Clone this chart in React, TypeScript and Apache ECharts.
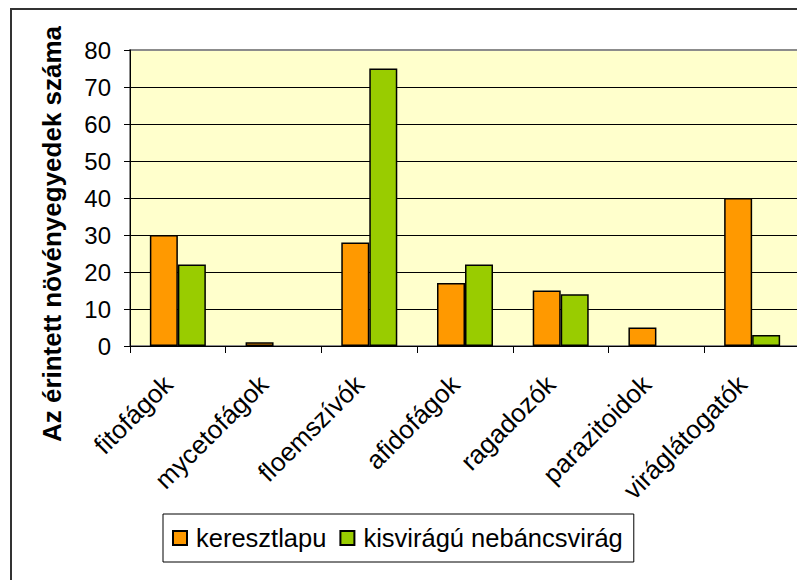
import React, { useEffect, useRef } from "react";
import * as echarts from "echarts";

const categories = [
  "fitofágok",
  "mycetofágok",
  "floemszívók",
  "afidofágok",
  "ragadozók",
  "parazitoidok",
  "viráglátogatók",
];
const seriesNames = ["keresztlapu", "kisvirágú nebáncsvirág"];
const keresztlapu = [30, 1, 28, 17, 15, 5, 40];
const kisviragu = [22, 0, 75, 22, 14, 0, 3];
const yAxisTitle = "Az érintett növényegyedek száma";
const yMin = 0;
const yMax = 80;
const yStep = 10;

const FONT = '"Liberation Sans", Arial, sans-serif';

// Excel does not draw anything for zero-height bars
const noZero = (arr: number[]) => arr.map((v) => (v === 0 ? "-" : v));

export default function App() {
  const ref = useRef<HTMLDivElement>(null);
  useEffect(() => {
    if (!ref.current) return;
    const chart = echarts.init(ref.current, null, { renderer: "svg" });
    const nLines = Math.round((yMax - yMin) / yStep) + 1;
    const splitColors: string[] = [];
    for (let i = 0; i < nLines; i++) splitColors.push(i === nLines - 1 ? "transparent" : "#000000");
    chart.setOption({
      animation: false,
      backgroundColor: "#ffffff",
      grid: {
        left: 122,
        top: 42,
        width: 670,
        height: 296,
        show: true,
        backgroundColor: "#FFFFCC",
        borderColor: "#8c8c8c",
        borderWidth: 2,
      },
      legend: {
        left: 155,
        top: 506,
        orient: "horizontal",
        icon: "rect",
        itemWidth: 14,
        itemHeight: 14,
        itemGap: 13,
        padding: [11, 11, 11, 9],
        backgroundColor: "#ffffff",
        borderColor: "#000000",
        borderWidth: 1,
        selectedMode: false,
        textStyle: { fontSize: 25.5, color: "#000", fontFamily: FONT, padding: [0, 0, 0, 4] },
        data: seriesNames,
      },
      xAxis: {
        type: "category",
        data: categories,
        axisLine: { show: true, lineStyle: { color: "#000", width: 1 } },
        axisTick: { show: true, length: 7, lineStyle: { color: "#000", width: 1 } },
        axisLabel: {
          interval: 0,
          rotate: 45,
          margin: 24,
          padding: [0, 14, 0, 0],
          fontSize: 26,
          color: "#000",
          fontFamily: FONT,
        },
        splitLine: { show: false },
      },
      yAxis: {
        type: "value",
        min: yMin,
        max: yMax,
        interval: yStep,
        axisLine: { show: true, lineStyle: { color: "#000", width: 1 } },
        axisTick: { show: true, length: 6, lineStyle: { color: "#000", width: 1 } },
        axisLabel: { margin: 19, fontSize: 24, color: "#000", fontFamily: FONT },
        splitLine: { show: true, lineStyle: { color: splitColors, width: 1 } },
      },
      series: [
        {
          name: seriesNames[0],
          type: "bar",
          data: noZero(keresztlapu),
          barWidth: 28,
          barGap: "0%",
          itemStyle: { color: "#FF9900", borderColor: "#000", borderWidth: 1.5 },
        },
        {
          name: seriesNames[1],
          type: "bar",
          data: noZero(kisviragu),
          barWidth: 28,
          barGap: "0%",
          itemStyle: { color: "#99CC00", borderColor: "#000", borderWidth: 1.5 },
        },
      ],
      graphic: [
        {
          type: "rect",
          silent: true,
          z: 100,
          shape: { x: 3, y: 1, width: 900, height: 700 },
          style: { fill: "none", stroke: "#333333", lineWidth: 2 },
        },
        {
          type: "text",
          x: 44,
          y: 226,
          rotation: Math.PI / 2,
          style: {
            text: yAxisTitle,
            font: "bold 26px " + FONT,
            fill: "#000",
            align: "center",
            verticalAlign: "middle",
          },
        },
      ],
    });
    return () => chart.dispose();
  }, []);
  return <div ref={ref} style={{ width: 797, height: 572 }} />;
}
